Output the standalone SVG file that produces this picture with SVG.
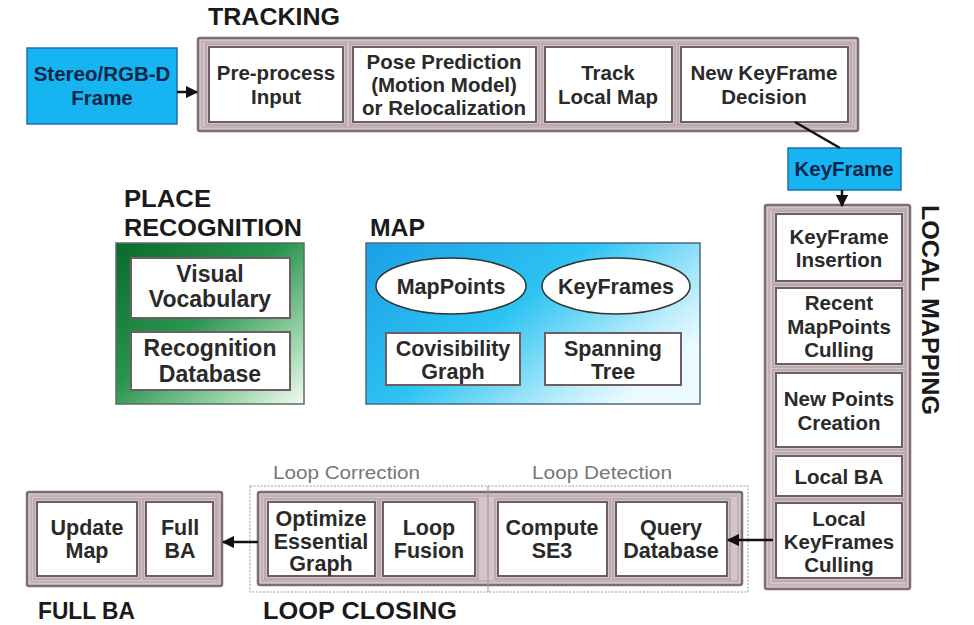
<svg xmlns="http://www.w3.org/2000/svg" width="974" height="625" viewBox="0 0 974 625">
<defs>
<linearGradient id="gGreen" x1="0" y1="0" x2="1" y2="1">
<stop offset="0" stop-color="#0a6a2c"/>
<stop offset="0.45" stop-color="#2a9450"/>
<stop offset="0.8" stop-color="#a2d8b0"/>
<stop offset="1" stop-color="#f4fbf5"/>
</linearGradient>
<linearGradient id="gBlue" x1="0" y1="0" x2="1" y2="0.6">
<stop offset="0" stop-color="#1d9fe6"/>
<stop offset="0.5" stop-color="#2cc3f2"/>
<stop offset="0.85" stop-color="#b8ecfa"/>
<stop offset="1" stop-color="#eafaff"/>
</linearGradient>
<marker id="arr" viewBox="0 0 10 10" refX="9" refY="5" markerWidth="5" markerHeight="5" orient="auto">
<path d="M0,0 L10,5 L0,10 z" fill="#111"/>
</marker>
<style>
.outer{fill:#d4c5c8;stroke:#7f6e70;stroke-width:2.5}
.inset{fill:none;stroke:#b6a5a8;stroke-width:1.2}
.halo{fill:none;stroke:#b3a2a5;stroke-width:1.5}
.inner{fill:#ffffff;stroke:#6e5e60;stroke-width:2}
.blue{fill:#17b4f2;stroke:#1f6fa8;stroke-width:1.5}
.dash{fill:none;stroke:#9a9a9a;stroke-width:1;stroke-dasharray:2,1.5}
.t{font-family:"Liberation Sans",Arial,sans-serif;font-weight:bold;font-size:20.5px;fill:#2a2a2a;text-anchor:middle}
.tm{font-size:21.5px}
.tp{font-size:23px}
.tl{font-size:21.5px}
.tb{font-family:"Liberation Sans",Arial,sans-serif;font-weight:bold;font-size:20.5px;fill:#0d2748;text-anchor:middle}
.title{font-family:"Liberation Sans",Arial,sans-serif;font-weight:bold;font-size:23px;fill:#1a1a1a}
.sub{font-family:"Liberation Sans",Arial,sans-serif;font-size:19px;fill:#777;text-anchor:start}
.line{stroke:#111;stroke-width:2.5;fill:none}
</style>
</defs>
<rect width="974" height="625" fill="#ffffff"/>

<g id="titles">
<text class="title" x="208" y="25" textLength="132" lengthAdjust="spacingAndGlyphs">TRACKING</text>
<text class="title" x="124" y="207" textLength="87" lengthAdjust="spacingAndGlyphs">PLACE</text>
<text class="title" x="124" y="236" textLength="178" lengthAdjust="spacingAndGlyphs">RECOGNITION</text>
<text class="title" x="370" y="236" textLength="55" lengthAdjust="spacingAndGlyphs">MAP</text>
<text class="title" x="38" y="619" textLength="97" lengthAdjust="spacingAndGlyphs">FULL BA</text>
<text class="title" x="263" y="619" textLength="194" lengthAdjust="spacingAndGlyphs">LOOP CLOSING</text>
<text class="title" transform="translate(922,205) rotate(90)" textLength="210" lengthAdjust="spacingAndGlyphs">LOCAL MAPPING</text>
<text class="sub" x="273" y="479" textLength="147" lengthAdjust="spacingAndGlyphs">Loop Correction</text>
<text class="sub" x="532" y="479" textLength="140" lengthAdjust="spacingAndGlyphs">Loop Detection</text>
</g>

<g id="stereo">
<rect class="blue" x="27" y="48" width="150" height="76"/>
<text class="tb" x="102" y="81">Stereo/RGB-D</text>
<text class="tb" x="102" y="105">Frame</text>
</g>

<g id="tracking">
<rect class="outer" x="198" y="38" width="660" height="93" rx="2"/>
<rect class="inset" x="202" y="42" width="652" height="85"/>
<g id="preprocess">
<rect class="halo" x="206" y="44" width="140" height="81"/>
<rect class="inner" x="209" y="47" width="134" height="75"/>
<text class="t" x="276" y="80">Pre-process</text>
<text class="t" x="276" y="104">Input</text>
</g>
<g id="pose">
<rect class="halo" x="350" y="44" width="189" height="81"/>
<rect class="inner" x="353" y="47" width="183" height="75"/>
<text class="t" x="444" y="69">Pose Prediction</text>
<text class="t" x="444" y="92">(Motion Model)</text>
<text class="t" x="444" y="115">or Relocalization</text>
</g>
<g id="tracklocal">
<rect class="halo" x="542" y="44" width="133" height="81"/>
<rect class="inner" x="545" y="47" width="127" height="75"/>
<text class="t" x="608" y="80">Track</text>
<text class="t" x="608" y="104">Local Map</text>
</g>
<g id="newkf">
<rect class="halo" x="678" y="44" width="173" height="81"/>
<rect class="inner" x="681" y="47" width="167" height="75"/>
<text class="t" x="764" y="80">New KeyFrame</text>
<text class="t" x="764" y="104">Decision</text>
</g>
</g>

<g id="keyframe">
<rect class="blue" x="788" y="148" width="113" height="42"/>
<text class="tb" x="844" y="176">KeyFrame</text>
</g>

<g id="placerec">
<rect x="116" y="243" width="188" height="161" fill="url(#gGreen)" stroke="#5a6e5e" stroke-width="1.5"/>
<g id="vocab">
<rect class="inner" x="131" y="258" width="159" height="60" stroke-width="1.5"/>
<text class="t tp" x="210" y="282">Visual</text>
<text class="t tp" x="210" y="307">Vocabulary</text>
</g>
<g id="recdb">
<rect class="inner" x="131" y="332" width="159" height="58" stroke-width="1.5"/>
<text class="t tp" x="210" y="356">Recognition</text>
<text class="t tp" x="210" y="382">Database</text>
</g>
</g>

<g id="map">
<rect x="366" y="243" width="334" height="161" fill="url(#gBlue)" stroke="#4a6a80" stroke-width="1.5"/>
<g id="mappoints">
<ellipse cx="451" cy="286" rx="75" ry="28" fill="#fff" stroke="#333" stroke-width="1.5"/>
<text class="t tm" x="451" y="294">MapPoints</text>
</g>
<g id="keyframes">
<ellipse cx="616" cy="286" rx="74" ry="28" fill="#fff" stroke="#333" stroke-width="1.5"/>
<text class="t tm" x="616" y="294">KeyFrames</text>
</g>
<g id="covis">
<rect class="inner" x="386" y="333" width="134" height="52" stroke-width="1.5"/>
<text class="t tm" x="453" y="356">Covisibility</text>
<text class="t tm" x="453" y="379">Graph</text>
</g>
<g id="spanning">
<rect class="inner" x="545" y="333" width="136" height="52" stroke-width="1.5"/>
<text class="t tm" x="613" y="356">Spanning</text>
<text class="t tm" x="613" y="379">Tree</text>
</g>
</g>

<g id="localmapping">
<rect class="outer" x="765" y="205" width="145" height="384" rx="2"/>
<rect class="inset" x="769" y="209" width="137" height="376"/>
<g id="kfinsert">
<rect class="halo" x="773" y="211" width="132" height="73"/>
<rect class="inner" x="776" y="214" width="126" height="67"/>
<text class="t" x="839" y="244">KeyFrame</text>
<text class="t" x="839" y="267">Insertion</text>
</g>
<g id="recentmp">
<rect class="halo" x="773" y="285" width="132" height="82"/>
<rect class="inner" x="776" y="288" width="126" height="76"/>
<text class="t" x="839" y="310">Recent</text>
<text class="t" x="839" y="334">MapPoints</text>
<text class="t" x="839" y="357">Culling</text>
</g>
<g id="newpoints">
<rect class="halo" x="773" y="370" width="132" height="80"/>
<rect class="inner" x="776" y="373" width="126" height="74"/>
<text class="t" x="839" y="406">New Points</text>
<text class="t" x="839" y="430">Creation</text>
</g>
<g id="localba">
<rect class="halo" x="773" y="453" width="132" height="46"/>
<rect class="inner" x="776" y="456" width="126" height="40"/>
<text class="t" x="839" y="484">Local BA</text>
</g>
<g id="localkfcull">
<rect class="halo" x="773" y="500" width="132" height="81"/>
<rect class="inner" x="776" y="503" width="126" height="75"/>
<text class="t" x="839" y="526">Local</text>
<text class="t" x="839" y="549">KeyFrames</text>
<text class="t" x="839" y="572">Culling</text>
</g>
</g>

<g id="fullba">
<rect class="outer" x="27" y="492" width="195" height="94" rx="2"/>
<rect class="inset" x="31" y="496" width="187" height="86"/>
<g id="updatemap">
<rect class="halo" x="34" y="499" width="106" height="80"/>
<rect class="inner" x="37" y="502" width="100" height="74"/>
<text class="t tl" x="87" y="535">Update</text>
<text class="t tl" x="87" y="558">Map</text>
</g>
<g id="fullbabox">
<rect class="halo" x="143" y="499" width="73" height="80"/>
<rect class="inner" x="146" y="502" width="67" height="74"/>
<text class="t tl" x="180" y="535">Full</text>
<text class="t tl" x="180" y="558">BA</text>
</g>
</g>

<g id="loopclosing">
<rect class="outer" x="258" y="492" width="484" height="93" rx="2"/>
<rect class="inset" x="262" y="496" width="476" height="85"/>
<rect class="dash" x="250" y="486" width="238" height="106"/>
<rect class="dash" x="488" y="486" width="260" height="106"/>
<g id="optimize">
<rect class="halo" x="265" y="499" width="113" height="80"/>
<rect class="inner" x="268" y="502" width="107" height="74"/>
<text class="t tl" x="321" y="526">Optimize</text>
<text class="t tl" x="321" y="549">Essential</text>
<text class="t tl" x="321" y="571">Graph</text>
</g>
<g id="loopfusion">
<rect class="halo" x="380" y="499" width="98" height="80"/>
<rect class="inner" x="383" y="502" width="92" height="74"/>
<text class="t tl" x="429" y="535">Loop</text>
<text class="t tl" x="429" y="558">Fusion</text>
</g>
<g id="computese3">
<rect class="halo" x="495" y="499" width="115" height="80"/>
<rect class="inner" x="498" y="502" width="109" height="74"/>
<text class="t tl" x="552" y="535">Compute</text>
<text class="t tl" x="552" y="558">SE3</text>
</g>
<g id="querydb">
<rect class="halo" x="613" y="499" width="117" height="80"/>
<rect class="inner" x="616" y="502" width="111" height="74"/>
<text class="t tl" x="671" y="535">Query</text>
<text class="t tl" x="671" y="558">Database</text>
</g>
</g>

<g id="connectors">
<line class="line" x1="177" y1="92" x2="197" y2="92" marker-end="url(#arr)"/>
<line class="line" x1="795" y1="122" x2="840" y2="148"/>
<line class="line" x1="842" y1="190" x2="842" y2="206" marker-end="url(#arr)"/>
<line class="line" x1="773" y1="540" x2="728" y2="540" marker-end="url(#arr)"/>
<line class="line" x1="258" y1="542" x2="223" y2="542" marker-end="url(#arr)"/>
</g>
</svg>
